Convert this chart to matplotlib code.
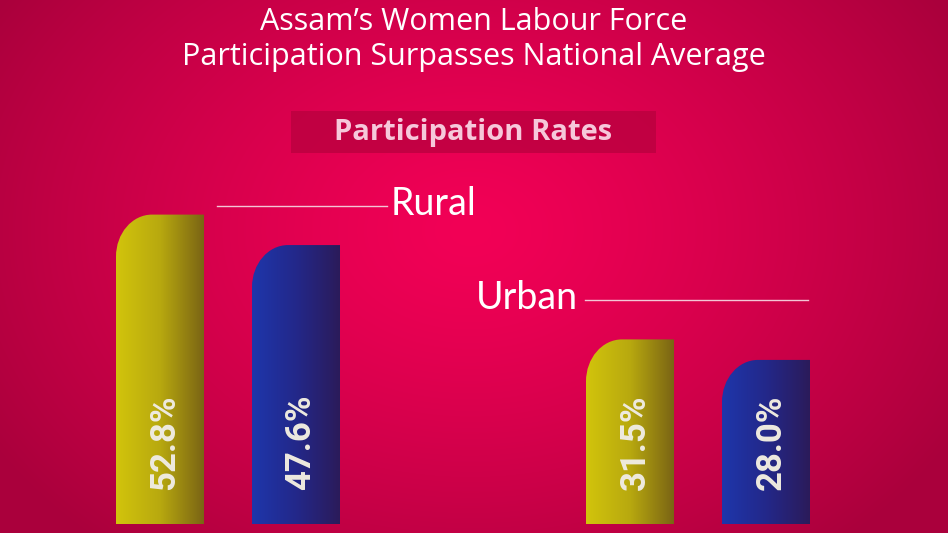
import numpy as np
import matplotlib
matplotlib.use('Agg')
import matplotlib.pyplot as plt
from matplotlib.colors import LinearSegmentedColormap
from matplotlib.path import Path
from matplotlib.patches import PathPatch, Rectangle
from matplotlib.lines import Line2D

# Data
groups = ['Rural', 'Urban']
assam = [52.8, 31.5]
india = [47.6, 28.0]

W, H = 948, 533
fig = plt.figure(figsize=(W / 100, H / 100), dpi=100)

# background: radial gradient
bg = fig.add_axes([0, 0, 1, 1])
bg.set_axis_off()
yy, xx = np.mgrid[0:H, 0:W]
r = np.sqrt(((xx - 470) / 560.0) ** 2 + ((yy - 230) / 420.0) ** 2)
r = np.clip(r, 0, 1) ** 1.3
c_in = np.array([0xf2, 0x00, 0x56]) / 255
c_out = np.array([0xaa, 0x00, 0x3c]) / 255
img = c_in[None, None, :] * (1 - r[..., None]) + c_out[None, None, :] * r[..., None]
bg.imshow(img, extent=(0, W, H, 0), aspect='auto')
bg.set_xlim(0, W)
bg.set_ylim(H, 0)

# bars axes
base_px = 524
px_per = 5.86
ymax = 80
ax = fig.add_axes([0, (H - base_px) / H, 1, ymax * px_per / H])
ax.set_axis_off()
ax.patch.set_alpha(0)
spacing = 470.0

bw = 88 / spacing
off = 68 / spacing
rx = 36 / spacing
ry = 42 / px_per
k = 0.5523

yellow = LinearSegmentedColormap.from_list('y', ['#d2c40c', '#b8a90f', '#7a6414'])
blue = LinearSegmentedColormap.from_list('b', ['#1e36ab', '#23288a', '#2b1b5a'])
grad = np.linspace(0, 1, 256)[None, :]


def bar(x, h, cmap, label):
    x0, x1 = x - bw / 2, x + bw / 2
    verts = [(x0, 0), (x0, h - ry),
             (x0, h - ry + k * ry), (x0 + rx - k * rx, h), (x0 + rx, h),
             (x1, h), (x1, 0), (x0, 0)]
    codes = [Path.MOVETO, Path.LINETO, Path.CURVE4, Path.CURVE4, Path.CURVE4,
             Path.LINETO, Path.LINETO, Path.CLOSEPOLY]
    patch = PathPatch(Path(verts, codes), facecolor='none', edgecolor='none')
    ax.add_patch(patch)
    im = ax.imshow(grad, cmap=cmap, extent=(x0, x1, 0, h), aspect='auto', zorder=2)
    im.set_clip_path(patch)
    ax.text(x + 5 / spacing, 34 / px_per, label, rotation=90, ha='center', va='bottom',
            color='#eeeadf', fontsize=25, fontweight='bold', family='Roboto', zorder=3)


for i in range(len(groups)):
    bar(i - off, assam[i], yellow, f'{assam[i]:.1f}%')
    bar(i + off, india[i], blue, f'{india[i]:.1f}%')

ax.set_xlim(-228 / spacing, (W - 228) / spacing)
ax.set_ylim(0, ymax)

# title
fig.text(0.5, 1 - 22 / H, "Assam\u2019s Women Labour Force", ha='center', va='center',
         color='white', fontsize=22, fontweight='medium', family='Open Sans')
fig.text(0.5, 1 - 57 / H, "Participation Surpasses National Average", ha='center', va='center',
         color='white', fontsize=22, fontweight='medium', family='Open Sans')

# subtitle band
fig.add_artist(Rectangle((291 / W, 1 - 153 / H), 365 / W, 42 / H, transform=fig.transFigure,
                         facecolor='#b8003e', alpha=0.75, edgecolor='none'))
fig.text(473 / W, 1 - 133 / H, 'Participation Rates', ha='center', va='center',
         color='#f6c8da', fontsize=21, fontweight='bold', family='Open Sans')

# group labels with lines
fig.add_artist(Line2D([217 / W, 387 / W], [1 - 206 / H, 1 - 206 / H], transform=fig.transFigure,
                      color='#f3c5d5', lw=1))
fig.text(391 / W, 1 - 204 / H, groups[0], ha='left', va='center', color='white',
         fontsize=27, fontweight='normal', family='Lato')
fig.add_artist(Line2D([585 / W, 808 / W], [1 - 300 / H, 1 - 300 / H], transform=fig.transFigure,
                      color='#f3c5d5', lw=1))
fig.text(578 / W, 1 - 298 / H, groups[1], ha='right', va='center', color='white',
         fontsize=27, fontweight='normal', family='Lato')

fig.savefig('out.png', dpi=100)
